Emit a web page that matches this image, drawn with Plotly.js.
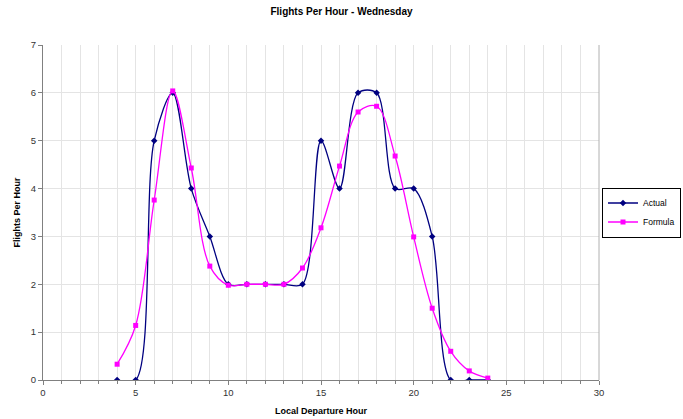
<!DOCTYPE html>
<html>
<head>
<meta charset="utf-8">
<script src="https://cdn.plot.ly/plotly-3.0.1.min.js"></script>
<style>html,body{margin:0;padding:0;background:#fff;}#chart{width:683px;height:419px;}</style>
</head>
<body>
<div id="chart"></div>
<script>
const hours = [4, 5, 6, 7, 8, 9, 10, 11, 12, 13, 14, 15, 16, 17, 18, 19, 20, 21, 22, 23, 24];
const actual = [0, 0, 5, 6, 4, 3, 2, 2, 2, 2, 2, 5, 4, 6, 6, 4, 4, 3, 0, 0, 0];
const formula = [0.33, 1.14, 3.76, 6.04, 4.43, 2.38, 1.98, 2.0, 2.0, 2.0, 2.34, 3.18, 4.47, 5.6, 5.72, 4.68, 2.99, 1.5, 0.6, 0.19, 0.04];
const xTicks = [0, 5, 10, 15, 20, 25, 30];
const yTicks = [0, 1, 2, 3, 4, 5, 6, 7];

const traces = [
  {
    x: hours, y: actual, name: 'Actual', type: 'scatter', mode: 'lines+markers',
    line: {color: '#000080', width: 1.3, shape: 'spline', smoothing: 0.9},
    marker: {symbol: 'diamond', size: 5, color: '#000080'},
    cliponaxis: true
  },
  {
    x: hours, y: formula, name: 'Formula', type: 'scatter', mode: 'lines+markers',
    line: {color: '#FF00FF', width: 1.3, shape: 'spline', smoothing: 1},
    marker: {symbol: 'square', size: 5, color: '#FF00FF'},
    cliponaxis: true
  }
];

const fam = 'Arial, Liberation Sans, sans-serif';

const layout = {
  width: 683, height: 419,
  margin: {l: 43, r: 4, t: 45, b: 39, autoexpand: false},
  paper_bgcolor: '#fff', plot_bgcolor: '#fff',
  font: {family: fam, size: 9, color: '#333'},
  title: {text: '<b>Flights Per Hour - Wednesday</b>', x: 0.5, xanchor: 'center', xref: 'container',
          y: 0.972, yanchor: 'middle',
          font: {family: fam, size: 10, color: '#000'}},
  xaxis: {
    domain: [0, 556 / 636],
    range: [0, 30], tickvals: xTicks, ticktext: xTicks.map(String),
    showline: true, linecolor: '#808080', linewidth: 1,
    ticks: 'outside', ticklen: 4, tickcolor: '#808080',
    showgrid: true, gridcolor: '#e4e4e4', gridwidth: 1,
    minor: {dtick: 1, ticks: 'outside', ticklen: 3, tickcolor: '#808080', showgrid: true, gridcolor: '#e4e4e4'},
    zeroline: false,
    tickfont: {family: fam, size: 9.5, color: '#333'},
    title: {text: '<b>Local Departure Hour</b>', standoff: 10,
            font: {family: fam, size: 9, color: '#000'}}
  },
  yaxis: {
    range: [0, 7], tickvals: yTicks, ticktext: yTicks.map(String),
    showline: true, linecolor: '#808080', linewidth: 1,
    ticks: 'outside', ticklen: 4, tickcolor: '#808080',
    showgrid: true, gridcolor: '#e4e4e4', gridwidth: 1,
    zeroline: false,
    tickfont: {family: fam, size: 9.5, color: '#333'},
    title: {text: '<b>Flights Per Hour</b>', standoff: 8,
            font: {family: fam, size: 9, color: '#000'}}
  },
  showlegend: true,
  legend: {
    x: (602 - 43) / 636, xanchor: 'left', y: 0.5, yanchor: 'middle',
    bordercolor: '#000', borderwidth: 1, bgcolor: '#fff',
    font: {family: fam, size: 8.5, color: '#000'},
    itemwidth: 30, tracegroupgap: 0
  },
  shapes: [
    {type: 'line', xref: 'x domain', yref: 'paper', x0: 1, x1: 1, y0: 0, y1: 1, line: {color: '#b0b0b0', width: 1}}
  ]
};

Plotly.newPlot('chart', traces, layout, {displayModeBar: false, staticPlot: true});
</script>
</body>
</html>
